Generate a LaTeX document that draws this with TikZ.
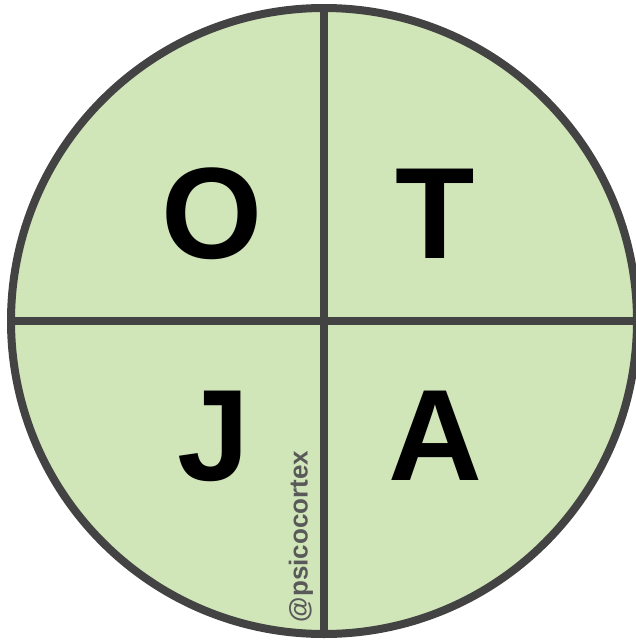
\documentclass[tikz,border=0pt]{standalone}
\usepackage{fontspec}
\setmainfont{Liberation Sans}
\definecolor{leaf}{HTML}{D0E5B8}
\definecolor{rim}{HTML}{434343}
\definecolor{handle}{HTML}{595959}
\tikzstyle{letter}=[inner sep=0pt, anchor=base, font=\fontsize{130}{130}\selectfont\bfseries]
\tikzstyle{tag}=[inner sep=0pt, anchor=base, rotate=90, text=handle, font=\fontsize{26}{26}\selectfont\bfseries]
\begin{document}
\begin{tikzpicture}[x=1pt, y=-1pt]
				\useasboundingbox (0,0) rectangle (636,641);
				\clip (0,0) rectangle (636,641);
				\draw[rim, fill=leaf, line width=8pt] (324,321) circle (313);
				\draw[rim, line width=8pt] (324,8) -- (324,634);
				\draw[rim, line width=8pt] (11,321) -- (637,321);
				\node[letter] (o) at (212.5,258) {O};
				\node[letter] (t) at (435.5,258) {T};
				\node[letter] (j) at (214,480) {J};
				\node[letter] (a) at (435.5,480) {A};
				\node[tag] (handle) at (307.5,536.5) {@psicocortex};
			\end{tikzpicture}
\end{document}
